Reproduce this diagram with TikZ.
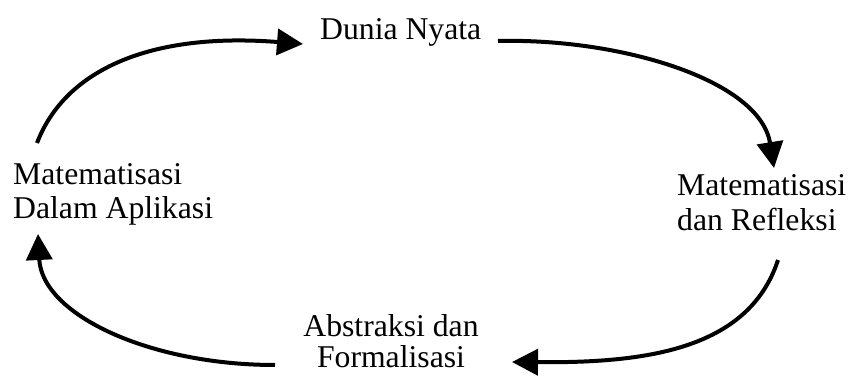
\documentclass[tikz,border=0pt]{standalone}
\usepackage{fontspec}
\setmainfont{Liberation Serif}
\usetikzlibrary{arrows.meta}
\begin{document}
\begin{tikzpicture}[x=1pt,y=-1pt,
  lbl/.style={inner sep=0pt,font=\fontsize{31.7}{34}\selectfont},
  flow/.style={line width=4pt,-{Triangle[length=26pt,width=26pt]}}]
\useasboundingbox (0,0) rectangle (849,379);
\node[lbl,anchor=base west] (dunia) at (320,40) {Dunia Nyata};
\node[lbl,anchor=base west,align=left] (mda) at (13,219) {Matematisasi\\Dalam Aplikasi};
\node[lbl,anchor=base west,align=left,font=\fontsize{31.7}{35}\selectfont] (mdr) at (677,231) {Matematisasi\\dan Refleksi};
\node[lbl,anchor=base,align=center,font=\fontsize{31.7}{31}\selectfont] (af) at (391,367) {Abstraksi dan\\Formalisasi};
\coordinate (s1) at (37,143);  \coordinate (e1) at (303,44);
\coordinate (s2) at (498,41);  \coordinate (e2) at (774,168);
\coordinate (s3) at (778,260); \coordinate (e3) at (512,362);
\coordinate (s4) at (275,365); \coordinate (e4) at (38,234);
\draw[flow] (s1) .. controls (65,70) and (150,32) .. (e1);
\draw[flow] (s2) .. controls (620,38) and (760,80) .. (e2);
\draw[flow] (s3) .. controls (748,352) and (640,363) .. (e3);
\draw[flow] (s4) .. controls (150,365) and (42,315) .. (e4);
\end{tikzpicture}
\end{document}
